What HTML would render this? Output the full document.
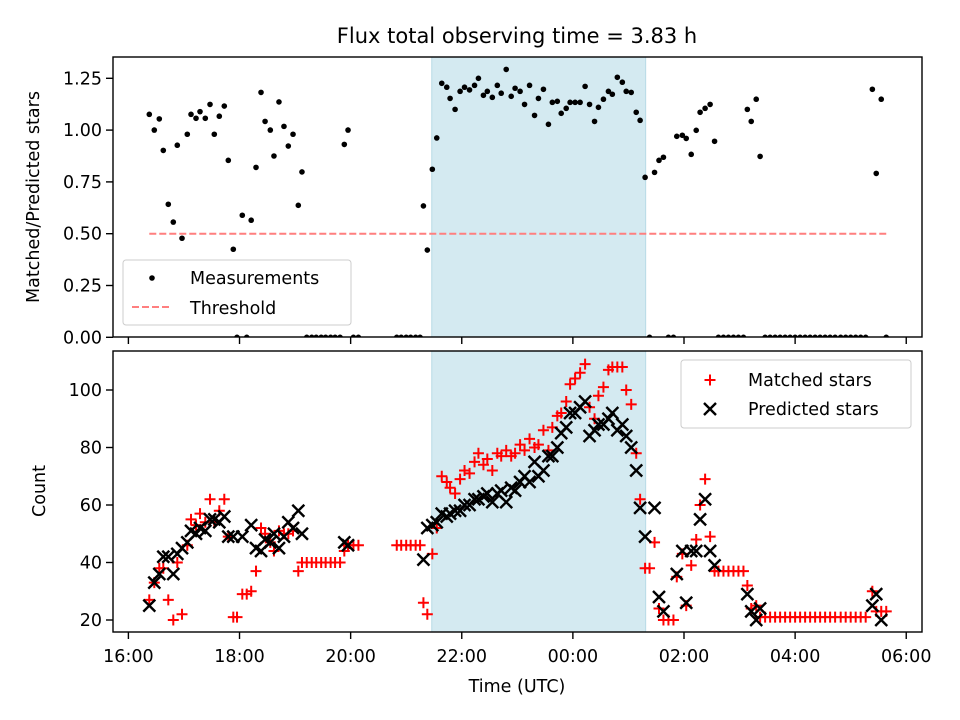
<!DOCTYPE html>
<html><head><meta charset="utf-8"><style>
body{margin:0;background:#fff;}
svg{display:block;font-family:"DejaVu Sans","Liberation Sans",sans-serif;}
</style></head><body>
<svg id="chart" width="960" height="720" viewBox="0 0 960 720">
<defs>
<clipPath id="clipTop"><rect x="113" y="57" width="809" height="280"/></clipPath>
<clipPath id="clipBot"><rect x="113" y="351" width="809" height="281"/></clipPath>
</defs>
<rect width="960" height="720" fill="#fff"/>
<text x="517" y="43" font-size="21" text-anchor="middle">Flux total observing time = 3.83 h</text>
<g id="topPanel"></g>
<g id="botPanel"></g>
<text x="517" y="692" font-size="17.5" text-anchor="middle">Time (UTC)</text>
<text transform="translate(39,197) rotate(-90)" font-size="17.5" text-anchor="middle">Matched/Predicted stars</text>
<text transform="translate(45,491) rotate(-90)" font-size="17.5" text-anchor="middle">Count</text>
</svg>
<script>
const times = [0.376,0.466,0.556,0.628,0.718,0.808,0.880,0.965,1.06,1.127,1.217,1.289,1.384,1.469,1.546,1.636,1.726,1.798,1.888,1.955,2.05,2.13,2.21,2.297,2.387,2.46,2.554,2.62,2.71,2.80,2.878,2.963,3.058,3.124,
3.21,3.30,3.38,3.47,3.55,3.64,3.72,3.81,3.886,3.953,4.05,4.14,
4.83,4.91,5.0,5.08,5.17,5.25,5.31,5.38,5.47,5.55,5.64,5.73,5.79,5.88,5.97,6.05,6.14,6.23,6.30,6.39,6.46,6.55,6.64,6.71,6.80,6.89,6.96,7.05,7.13,7.22,7.31,7.38,7.47,7.56,7.63,7.72,7.79,7.88,7.95,8.04,8.13,8.22,8.30,8.39,8.46,8.55,8.64,8.71,8.80,8.89,8.96,9.05,9.14,9.21,9.30,
9.38,9.47,9.55,9.63,9.72,9.81,9.87,9.97,10.04,10.13,10.22,10.29,10.38,10.47,10.55,
10.62,10.71,10.80,10.89,10.98,11.07,11.14,11.21,11.30,11.37,
11.46,11.55,11.64,11.73,11.82,11.91,12.0,12.09,12.18,12.27,12.36,12.45,12.54,12.63,12.72,12.82,12.91,13.0,13.09,13.18,13.27,
13.39,13.46,13.55,13.64];
const ratio = [1.076,1.0,1.054,0.902,0.642,0.556,0.927,0.478,0.98,1.076,1.057,1.089,1.057,1.124,0.98,1.067,1.116,0.854,0.425,0,0.589,0,0.565,0.82,1.182,1.042,1.0,0.875,1.136,1.018,0.923,0.98,0.637,0.798,
0,0,0,0,0,0,0,0,0.931,1.0,0,0,
0,0,0,0,0,0,0.634,0.421,0.811,0.962,1.226,1.207,1.153,1.10,1.187,1.207,1.194,1.216,1.25,1.168,1.187,1.158,1.216,1.178,1.293,1.163,1.202,1.187,1.124,1.216,1.071,1.153,1.197,1.028,1.134,1.139,1.081,1.105,1.134,1.134,1.134,1.211,1.124,1.042,1.11,1.149,1.187,1.173,1.255,1.231,1.187,1.182,1.086,1.047,0.772,
0,0.796,0.854,0.869,0,0,0.97,0.975,0.96,0.883,0.999,1.086,1.105,1.124,0.946,
0,0,0,0,0,0,1.10,1.042,1.149,0.873,
0,0,0,0,0,0,0,0,0,0,0,0,0,0,0,0,0,0,0,0,0,
1.197,0.791,1.149,0];
const matched = [27,33,38,38,27,20,40,22,46,55,53,57,54,62,54,58,62,49,21,21,29,29,30,37,52,50,47,44,51,50,50,51,37,40,
40,40,40,40,40,40,40,40,44,46,46,46,
46,46,46,46,46,46,26,22,43,52,70,68,66,64,69,72,71,75,78,74,76,72,78,77,79,77,78,81,79,83,80,81,86,79,87,91,92,96,102,104,106,109,94,90,98,101,107,108,108,108,100,95,78,62,38,
38,47,24,20,20,20,35,43,25,39,48,60,69,49,37,
37,37,37,37,37,37,32,24,25,21,
21,21,21,21,21,21,21,21,21,21,21,21,21,21,21,21,21,21,21,21,21,
30,23,23,23];
const predicted = [25,33,36,42,42,36,43,45,47,51,50,52,51,55,55,54,56,49,49,0,49,0,53,45,44,48,47,50,45,49,54,52,58,50,
0,0,0,0,0,0,0,0,47,46,0,0,
0,0,0,0,0,0,41,52,53,54,57,56,57,58,58,60,60,62,62,63,64,61,64,65,61,66,65,68,70,68,75,70,72,77,77,80,85,87,92,92,94,96,84,86,88,88,90,92,86,88,84,80,72,59,49,
0,59,28,23,0,0,36,44,26,44,44,55,62,44,39,
0,0,0,0,0,0,29,23,20,24,
0,0,0,0,0,0,0,0,0,0,0,0,0,0,0,0,0,0,0,0,0,
25,29,20,0];
const shadeStart = 5.46, shadeEnd = 9.31;
const threshold = 0.5, thresholdStart = 0.376, thresholdEnd = 13.64;
const xTickLabels = ["16:00","18:00","20:00","22:00","00:00","02:00","04:00","06:00"];
const xTickHours = [0,2,4,6,8,10,12,14];
const topTicks = [0,0.25,0.5,0.75,1.0,1.25];
const botTicks = [20,40,60,80,100];

const NS="http://www.w3.org/2000/svg";
const X0=113,X1=922,TT=57,TB=337,BT=351,BB=632;
const xs = h => 128.4 + h*55.56;
const yTop = v => 337.3 - v*207.2;
const yBot = c => 620 - (c-20)*2.875;
function mk(tag,attrs,parent){const e=document.createElementNS(NS,tag);for(const k in attrs)e.setAttribute(k,attrs[k]);parent.appendChild(e);return e;}
const topG=document.getElementById('topPanel'), botG=document.getElementById('botPanel');

function panel(g,yT,yB,clip,ticks,yf,fmt,name){
  const s=mk('rect',{x:xs(shadeStart),y:yT,width:xs(shadeEnd)-xs(shadeStart),height:yB-yT,fill:'#d4eaf1',stroke:'#b8dbe6','stroke-width':1},g);
  
  
  xTickHours.forEach((h,i)=>{
    const t=mk('line',{x1:xs(h),x2:xs(h),y1:yB,y2:yB+7,stroke:'#000','stroke-width':1.4},g);
    
    
  });
  ticks.forEach(v=>{
    const t=mk('line',{x1:X0-7,x2:X0,y1:yf(v),y2:yf(v),stroke:'#000','stroke-width':1.4},g);
    
    
    const l=mk('text',{x:X0-11,y:yf(v)+6,'font-size':17.5,'text-anchor':'end'},g);
    l.textContent=fmt(v);
    
    
  });
  return mk('g',{'clip-path':'url(#'+clip+')'},g);
}
const tp=panel(topG,TT,TB,'clipTop',topTicks,yTop,v=>v.toFixed(2),'top');
const bp=panel(botG,BT,BB,'clipBot',botTicks,yBot,v=>String(v),'bottom');

const th=mk('line',{x1:xs(thresholdStart),x2:xs(thresholdEnd),y1:yTop(threshold),y2:yTop(threshold),stroke:'#ff7f7f','stroke-width':2,'stroke-dasharray':'7,3'},tp);


times.forEach((h,i)=>{
  const c=mk('circle',{cx:xs(h),cy:yTop(ratio[i]),r:2.8,fill:'#000'},tp);
  
  
});
times.forEach((h,i)=>{
  const cx=xs(h), cy=yBot(matched[i]);
  const p=mk('path',{d:`M${cx-5.5},${cy}H${cx+5.5}M${cx},${cy-5.5}V${cy+5.5}`,stroke:'#f00','stroke-width':2,fill:'none'},bp);
  
  
});
times.forEach((h,i)=>{
  const cx=xs(h), cy=yBot(predicted[i]);
  const p=mk('path',{d:`M${cx-6},${cy-6}L${cx+6},${cy+6}M${cx-6},${cy+6}L${cx+6},${cy-6}`,stroke:'#000','stroke-width':2.4,fill:'none'},bp);
  
  
});
[[TT,TB,topG,'top-frame'],[BT,BB,botG,'bottom-frame']].forEach(([a,b,g,n])=>{
  const r=mk('rect',{x:X0,y:a,width:X1-X0,height:b-a,fill:'none',stroke:'#000','stroke-width':1.4},g);
  
  
});
xTickHours.forEach((h,i)=>{
  const l=mk('text',{x:xs(h),y:BB+30,'font-size':17.5,'text-anchor':'middle'},botG);
  l.textContent=xTickLabels[i];
  
  
});
const lg1=mk('g',{},topG);


mk('rect',{x:123,y:260,width:228,height:65,rx:3,fill:'#fff','fill-opacity':0.8,stroke:'#ccc'},lg1);
mk('circle',{cx:152,cy:278,r:2.8,fill:'#000'},lg1);
mk('text',{x:190,y:284,'font-size':17.5},lg1).textContent='Measurements';
mk('line',{x1:132,x2:172,y1:307,y2:307,stroke:'#ff7f7f','stroke-width':2,'stroke-dasharray':'7,3'},lg1);
mk('text',{x:190,y:314,'font-size':17.5},lg1).textContent='Threshold';
const lg2=mk('g',{},botG);


mk('rect',{x:681,y:360,width:230,height:68,rx:3,fill:'#fff','fill-opacity':0.8,stroke:'#ccc'},lg2);
mk('path',{d:'M704.5,380H715.5M710,374.5V385.5',stroke:'#f00','stroke-width':2},lg2);
mk('text',{x:748,y:386,'font-size':17.5},lg2).textContent='Matched stars';
mk('path',{d:'M704,403L716,415M704,415L716,403',stroke:'#000','stroke-width':2.4},lg2);
mk('text',{x:748,y:415,'font-size':17.5},lg2).textContent='Predicted stars';
</script>
</body></html>
